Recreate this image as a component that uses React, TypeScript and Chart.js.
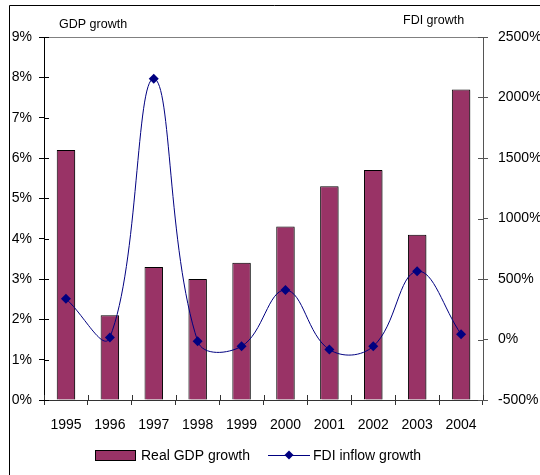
import React, { useEffect, useRef } from 'react';
import { Chart, registerables } from 'chart.js';

Chart.register(...registerables);

const years = ['1995', '1996', '1997', '1998', '1999', '2000', '2001', '2002', '2003', '2004'];
const gdpGrowth = [6.2, 2.1, 3.3, 3.0, 3.4, 4.3, 5.3, 5.7, 4.1, 7.7];
const fdiGrowth = [337, 17, 2155, -14, -56, 409, -83, -56, 564, 44];
const gdpLabel = 'Real GDP growth';
const fdiLabel = 'FDI inflow growth';
const leftTitle = 'GDP growth';
const rightTitle = 'FDI growth';

const FONT = '"Liberation Sans", Arial, Helvetica, sans-serif';
const BAR_COLOR = '#993366';
const LINE_COLOR = '#000080';

const decorPlugin = {
  id: 'decor',
  beforeDatasetDraw(chart: any, args: any) {
    if (args.index === 0) {
      const ctx = chart.ctx;
      ctx.save();
      ctx.shadowColor = 'rgba(0,0,0,0.3)';
      ctx.shadowOffsetX = 2;
      ctx.shadowOffsetY = 1;
      ctx.shadowBlur = 0;
    }
  },
  afterDatasetDraw(chart: any, args: any) {
    if (args.index === 0) chart.ctx.restore();
  },
  afterDraw(chart: any) {
    const ctx = chart.ctx;
    const { left, right, top, bottom } = chart.chartArea;
    ctx.save();
    ctx.lineWidth = 1;
    // outer frame
    ctx.strokeStyle = '#000';
    ctx.beginPath();
    ctx.moveTo(9.5, 475);
    ctx.lineTo(9.5, 5.5);
    ctx.lineTo(540, 5.5);
    ctx.stroke();
    // plot top line
    ctx.strokeStyle = '#808080';
    ctx.beginPath();
    ctx.moveTo(left, Math.round(top) + 0.5);
    ctx.lineTo(right, Math.round(top) + 0.5);
    ctx.stroke();
    // inner tick marks
    const yL = chart.scales.y;
    const yR = chart.scales.y1;
    const xS = chart.scales.x;
    ctx.strokeStyle = '#000';
    ctx.beginPath();
    yL.ticks.forEach((_: any, i: number) => {
      const y = Math.round(yL.getPixelForTick(i)) + 0.5;
      ctx.moveTo(left, y);
      ctx.lineTo(left + 5, y);
    });
    ctx.stroke();
    ctx.strokeStyle = '#555';
    ctx.beginPath();
    yR.ticks.forEach((_: any, i: number) => {
      const y = Math.round(yR.getPixelForTick(i)) + 0.5;
      ctx.moveTo(right - 5, y);
      ctx.lineTo(right, y);
    });
    ctx.stroke();
    ctx.strokeStyle = '#333';
    ctx.beginPath();
    const n = xS.ticks.length;
    for (let i = 0; i <= n; i++) {
      const x = Math.round(left + (i * (right - left)) / n) + 0.5;
      ctx.moveTo(x, bottom - 5);
      ctx.lineTo(x, bottom);
    }
    ctx.stroke();
    // axis titles
    ctx.fillStyle = '#000';
    ctx.font = `12.5px ${FONT}`;
    ctx.textBaseline = 'alphabetic';
    ctx.textAlign = 'left';
    ctx.fillText(leftTitle, 59, 28);
    ctx.fillText(rightTitle, 403, 24);
    // legend
    const ly = 455;
    ctx.fillStyle = BAR_COLOR;
    ctx.fillRect(95, ly - 5, 40, 10);
    ctx.strokeStyle = '#000';
    ctx.strokeRect(95.5, ly - 4.5, 40, 10);
    ctx.fillStyle = '#000';
    ctx.font = `14px ${FONT}`;
    ctx.textBaseline = 'middle';
    ctx.fillText(chart.data.datasets[0].label, 141, ly + 1);
    ctx.strokeStyle = LINE_COLOR;
    ctx.beginPath();
    ctx.moveTo(268, ly + 0.5);
    ctx.lineTo(310, ly + 0.5);
    ctx.stroke();
    ctx.fillStyle = LINE_COLOR;
    ctx.beginPath();
    ctx.moveTo(289, ly - 4.5);
    ctx.lineTo(293.5, ly);
    ctx.lineTo(289, ly + 4.5);
    ctx.lineTo(284.5, ly);
    ctx.closePath();
    ctx.fill();
    ctx.fillStyle = '#000';
    ctx.fillText(chart.data.datasets[1].label, 313, ly + 1);
    ctx.restore();
  },
};

export default function App() {
  const ref = useRef<HTMLCanvasElement | null>(null);
  useEffect(() => {
    if (!ref.current) return;
    const tickFont = { family: FONT, size: 14 };
    const chart = new Chart(ref.current, {
      type: 'bar',
      data: {
        labels: years,
        datasets: [
          {
            type: 'bar',
            label: gdpLabel,
            data: gdpGrowth,
            backgroundColor: BAR_COLOR,
            borderColor: '#000',
            borderWidth: 1,
            barPercentage: 0.42,
            categoryPercentage: 1,
            yAxisID: 'y',
            order: 2,
          },
          {
            type: 'line',
            label: fdiLabel,
            data: fdiGrowth,
            borderColor: LINE_COLOR,
            backgroundColor: LINE_COLOR,
            borderWidth: 1,
            tension: 0.4,
            pointStyle: 'rectRot',
            pointRadius: 5,
            pointBackgroundColor: LINE_COLOR,
            pointBorderColor: LINE_COLOR,
            pointBorderWidth: 0,
            yAxisID: 'y1',
            order: 1,
          },
        ],
      },
      options: {
        responsive: false,
        animation: false,
        devicePixelRatio: 1,
        layout: { padding: { left: 0, right: 0, top: 37, bottom: 35 } },
        plugins: { legend: { display: false }, tooltip: { enabled: false } },
        scales: {
          x: {
            offset: true,
            grid: { display: true, drawOnChartArea: false, offset: true, tickLength: 5, color: '#333' },
            border: { color: '#333' },
            ticks: { font: tickFont, color: '#000', padding: 12, maxRotation: 0 },
            afterFit: (s: any) => { s.height = 40; },
          },
          y: {
            position: 'left',
            min: 0,
            max: 9,
            ticks: { stepSize: 1, font: tickFont, color: '#000', padding: 7, callback: (v: any) => `${v}%` },
            grid: { drawOnChartArea: false, tickLength: 5, color: '#000' },
            border: { color: '#000' },
            afterFit: (s: any) => { s.width = 44; },
          },
          y1: {
            position: 'right',
            min: -500,
            max: 2500,
            ticks: { stepSize: 500, font: tickFont, color: '#000', padding: 10, callback: (v: any) => `${v}%` },
            grid: { drawOnChartArea: false, tickLength: 5, color: '#555' },
            border: { color: '#555' },
            afterFit: (s: any) => { s.width = 57; },
          },
        },
      },
      plugins: [decorPlugin],
    } as any);
    return () => chart.destroy();
  }, []);
  return (
    <div style={{ position: 'fixed', left: 0, top: 0, width: 540, height: 475, overflow: 'hidden', background: '#fff' }}>
      <canvas ref={ref} width={540} height={475} style={{ width: 540, height: 475, display: 'block' }} />
    </div>
  );
}
